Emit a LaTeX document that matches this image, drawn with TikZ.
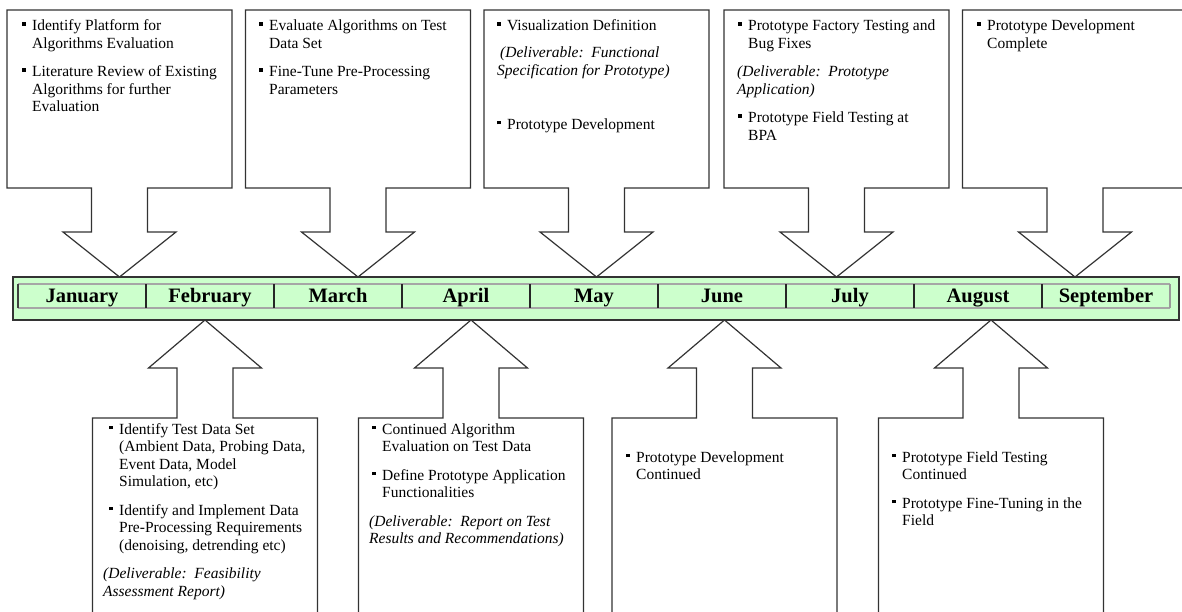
\documentclass[tikz,border=0pt]{standalone}
\usepackage{fontspec}
\setmainfont{Liberation Serif}
\usepackage{tikz}
\definecolor{barfill}{HTML}{CCFFCC}
\def\sq{\rule[5pt]{3.5pt}{3.5pt}}
\def\BL#1{\begin{tabular}[t]{@{}l@{\hspace{6.5pt}}l@{}}#1\end{tabular}}
\def\TopCo#1{\draw[co] (#1-112.5,10) -- (#1+112.5,10) -- (#1+112.5,188) -- (#1+28,188) -- (#1+28,232) -- (#1+56.5,232) -- (#1,277) -- (#1-56.5,232) -- (#1-28,232) -- (#1-28,188) -- (#1-112.5,188) -- cycle;}
\def\BotCo#1{\draw[co] (#1,320) -- (#1+56.5,368) -- (#1+28,368) -- (#1+28,418) -- (#1+112.5,418) -- (#1+112.5,630) -- (#1-112.5,630) -- (#1-112.5,418) -- (#1-28,418) -- (#1-28,368) -- (#1-56.5,368) -- cycle;}
\tikzset{
  co/.style={draw=black!80, line width=1.2pt, fill=white},
  itemtext/.style={inner sep=0pt, anchor=base west, font=\fontsize{15.5}{17.5}\selectfont},
  month/.style={anchor=base, inner sep=0pt, font=\fontsize{20.5}{24}\selectfont\bfseries}
}
\begin{document}
\begin{tikzpicture}[x=1pt,y=-1pt]
\useasboundingbox (0,0) rectangle (1182,612);
\clip (0,0) rectangle (1182,612);
% callouts above the bar
\TopCo{119.5} \TopCo{358} \TopCo{596.5} \TopCo{836.5} \TopCo{1075}
% callouts below the bar
\BotCo{205} \BotCo{471} \BotCo{724.5} \BotCo{991}
% month bar
\draw[draw=black!80, line width=1.2pt, fill=barfill] (13,277) rectangle (1179,320);
\draw[black!35, line width=1.5pt] (18,284) -- (1170,284) (18,308) -- (1170,308);
\draw[black!75, line width=1.2pt] (18,284) -- (18,308);
\draw[black!40, line width=1.2pt] (1170,284) -- (1170,308);
\foreach \i in {1,...,8} \draw[black!85, line width=1.2pt] (18+128*\i,284) -- (18+128*\i,308);
\foreach \m [count=\i] in {January,February,March,April,May,June,July,August,September}
  \node[month] (m\i) at (18+128*\i-64,302) {\m};
% top texts
\node[itemtext] (t1) at (22,31) {\BL{\sq & Identify Platform for\\ & Algorithms Evaluation\\[11pt]
  \sq & Literature Review of Existing\\ & Algorithms for further\\ & Evaluation}};
\node[itemtext] (t2) at (259,31) {\BL{\sq & Evaluate Algorithms on Test\\ & Data Set\\[11pt]
  \sq & Fine-Tune Pre-Processing\\ & Parameters}};
\node[itemtext] (t3) at (497,31) {\BL{\sq & Visualization Definition\\[9.5pt]
  \multicolumn{2}{@{}l@{}}{\itshape \hspace{3pt}(Deliverable:\ \ Functional}\\
  \multicolumn{2}{@{}l@{}}{\itshape Specification for Prototype)}\\[36.5pt]
  \sq & Prototype Development}};
\node[itemtext] (t4) at (738,31) {\BL{\sq & Prototype Factory Testing and\\ & Bug Fixes\\[11pt]
  \multicolumn{2}{@{}l@{}}{\itshape\hspace{-1pt}(Deliverable:\ \ Prototype}\\
  \multicolumn{2}{@{}l@{}}{\itshape\hspace{-1pt}Application)}\\[11pt]
  \sq & Prototype Field Testing at\\ & BPA}};
\node[itemtext] (t5) at (977,31) {\BL{\sq & Prototype Development\\ & Complete}};
% bottom texts
\node[itemtext] (b1) at (109,434) {\BL{\sq & Identify Test Data Set\\ & (Ambient Data, Probing Data,\\ & Event Data, Model\\ & Simulation, etc)\\[11pt]
  \sq & Identify and Implement Data\\ & Pre-Processing Requirements\\ & (denoising, detrending etc)\\[11pt]
  \multicolumn{2}{@{}l@{}}{\itshape\hspace{-6pt}(Deliverable:\ \ Feasibility}\\
  \multicolumn{2}{@{}l@{}}{\itshape\hspace{-6pt}Assessment Report)}}};
\node[itemtext] (b2) at (372,434) {\BL{\sq & Continued Algorithm\\ & Evaluation on Test Data\\[11pt]
  \sq & Define Prototype Application\\ & Functionalities\\[11pt]
  \multicolumn{2}{@{}l@{}}{\itshape\hspace{-3pt}(Deliverable:\ \ Report on Test}\\
  \multicolumn{2}{@{}l@{}}{\itshape\hspace{-3pt}Results and Recommendations)}}};
\node[itemtext] (b3) at (626,462) {\BL{\sq & Prototype Development\\ & Continued}};
\node[itemtext] (b4) at (892,462) {\BL{\sq & Prototype Field Testing\\ & Continued\\[11pt]
  \sq & Prototype Fine-Tuning in the\\ & Field}};
\end{tikzpicture}
\end{document}
